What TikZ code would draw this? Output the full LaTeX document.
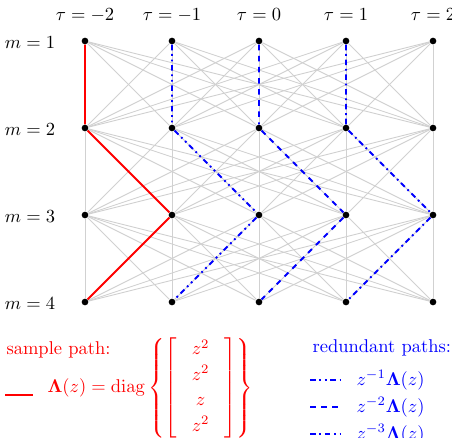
\documentclass[tikz,border=0pt]{standalone}
\usepackage{amssymb}
\usepackage{amsmath}
\usetikzlibrary{positioning}

\begin{document}
\begin{tikzpicture}[x=0.019cm, y=-0.019cm,
  dot/.style={circle, fill=black, inner sep=0pt, minimum size=3.6pt},
  lnk/.style={draw=black!18, line width=0.5pt},
  smp/.style={draw=red, line width=1pt},
  rdn/.style={draw=blue, line width=1pt}]
\useasboundingbox (0,0) rectangle (452,438);
% trellis nodes
\foreach \i in {0,...,4}
  \foreach \j in {1,...,4}
    \node[dot] (n\i\j) at ({85+87*\i},{41+87*(\j-1)}) {};
% tau and m labels
\foreach \i/\t in {0/-2,1/-1,2/0,3/1,4/2}
  \node (t\i) at ({85+87*\i},15) {$\tau=\t$};
\foreach \j in {1,...,4}
  \node (m\j) at (30,{43+87*(\j-1)}) {$m=\j$};
% every link between neighbouring rows
\foreach \j/\k in {1/2,2/3,3/4}
  \foreach \a in {0,...,4}
    \foreach \b in {0,...,4}
      \draw[lnk] (n\a\j) -- (n\b\k);
% sample path and its shifted copies
\draw[smp] (n01) -- (n02) -- (n13) -- (n04);
\draw[rdn, dash dot dot] (n11) -- (n12) -- (n23) -- (n14);
\draw[rdn, dashed] (n21) -- (n22) -- (n33) -- (n24);
\draw[rdn, dash dot] (n31) -- (n32) -- (n43) -- (n34);
% legend
\node[red, anchor=west] (sp) at (0,350) {sample path:};
\coordinate (sa) at (5,395);
\coordinate (sb) at (33,395);
\draw[smp] (sa) -- (sb);
\node[red, anchor=west] (eq) at (41,388)
  {\arraycolsep=8pt\renewcommand{\arraystretch}{1.15}%
   $\mathbf{\Lambda}(z)=\operatorname{diag}\left\{\left[\begin{array}{c} z^2\\ z^2\\ z\\ z^2\end{array}\right]\right\}$};
\node[blue, anchor=west] (rp) at (306,348) {redundant paths:};
\foreach \k/\s/\y in {1/dash dot dot/380, 2/dashed/407, 3/dash dot/434} {
  \coordinate (ra\k) at (310,\y);
  \coordinate (rb\k) at (340,\y);
  \draw[rdn, \s] (ra\k) -- (rb\k);
  \node[blue, anchor=west] (rt\k) at (350,\y) {$z^{-\k}\mathbf{\Lambda}(z)$};
}
\end{tikzpicture}
\end{document}
